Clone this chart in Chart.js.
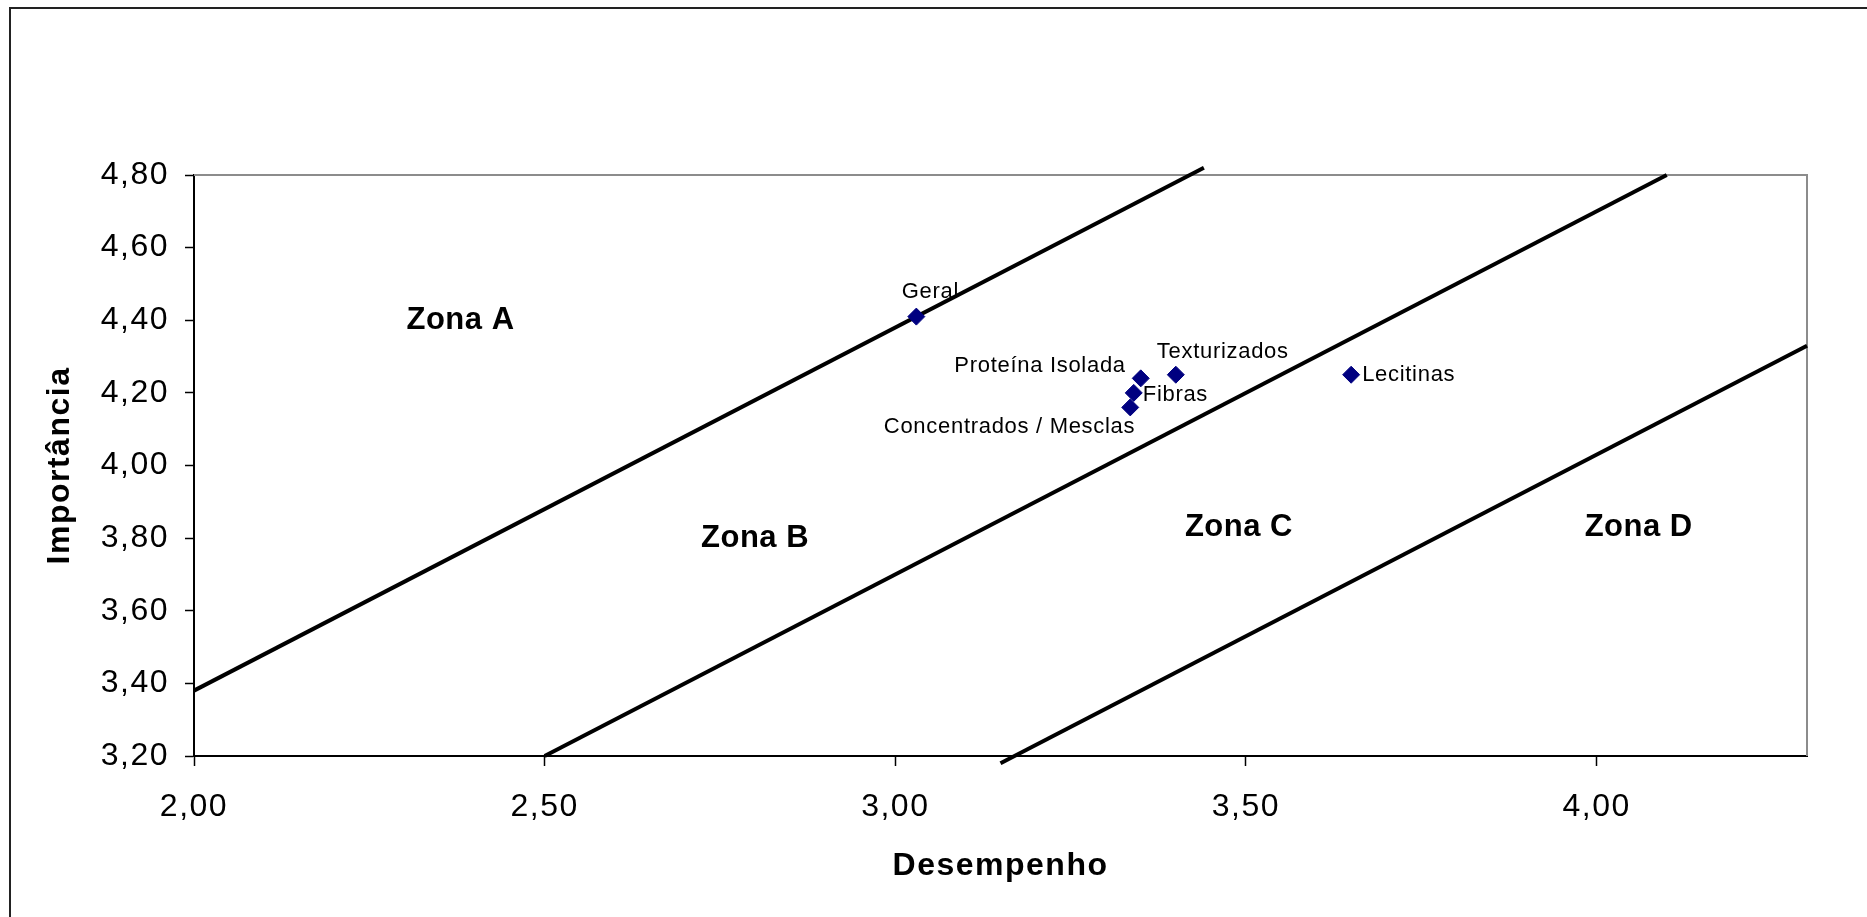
<!DOCTYPE html>
<html>
<head>
<meta charset="utf-8">
<script src="https://cdn.jsdelivr.net/npm/chart.js@4.4.1/dist/chart.umd.min.js"></script>
<style>
html,body{margin:0;padding:0;background:#fff;overflow:hidden}
canvas{display:block}
</style>
</head>
<body>
<canvas id="c" width="1867" height="917"></canvas>
<script>
// ---- data ----
const productNames = ['Geral', 'Proteína Isolada', 'Texturizados', 'Fibras', 'Concentrados / Mesclas', 'Lecitinas'];
const desempenho  = [3.03, 3.35, 3.40, 3.34, 3.335, 3.65];
const importancia = [4.41, 4.24, 4.25, 4.20, 4.16, 4.25];

// zone boundary lines (two end points each)
const lineABx = [2.00, 3.44];
const lineABy = [3.38, 4.82];
const lineBCx = [2.50, 4.10];
const lineBCy = [3.20, 4.80];
const lineCDx = [3.15, 4.30];
const lineCDy = [3.18, 4.33];

// zone names and their anchor (data units)
const zoneNames = ['Zona A', 'Zona B', 'Zona C', 'Zona D'];
const zoneX = [2.38, 2.80, 3.49, 4.06];
const zoneY = [4.40, 3.80, 3.83, 3.83];

// tick labels
const xTickLabels = ['2,00', '2,50', '3,00', '3,50', '4,00'];
const yTickLabels = ['3,20', '3,40', '3,60', '3,80', '4,00', '4,20', '4,40', '4,60', '4,80'];

const xAxisTitle = 'Desempenho';
const yAxisTitle = 'Importância';

// ---- helpers ----
const toNum = s => parseFloat(s.replace(',', '.'));
const pts = (xs, ys) => xs.map((x, i) => ({x: x, y: ys[i]}));
const FONT = "'Liberation Sans', Arial, Helvetica, sans-serif";

// label placement per point: [align, dx, dy(baseline)]
const labelPlacement = [
  ['center', 14, -19],
  ['right', -15, -6],
  ['left', -19, -17],
  ['left', 9, 8],
  ['right', 5, 26],
  ['left', 11, 6]
];

const decorPlugin = {
  id: 'decor',
  beforeDraw(chart) {
    const ctx = chart.ctx;
    ctx.save();
    ctx.strokeStyle = '#222';
    ctx.lineWidth = 2;
    ctx.beginPath();
    ctx.moveTo(10, 917);
    ctx.lineTo(10, 8);
    ctx.lineTo(1867, 8);
    ctx.stroke();
    ctx.restore();
    ctx.letterSpacing = '1.5px';
  },
  beforeDatasetsDraw(chart) {
    const {ctx, chartArea: a} = chart;
    ctx.save();
    ctx.strokeStyle = '#8c8c8c';
    ctx.lineWidth = 2;
    ctx.beginPath();
    ctx.moveTo(a.left, a.top);
    ctx.lineTo(a.right, a.top);
    ctx.lineTo(a.right, a.bottom);
    ctx.stroke();
    ctx.restore();
  },
  afterDatasetsDraw(chart) {
    const ctx = chart.ctx;
    const meta = chart.getDatasetMeta(0);
    ctx.save();
    ctx.fillStyle = '#000';
    ctx.letterSpacing = '0.7px';
    ctx.font = '22px ' + FONT;
    ctx.textBaseline = 'alphabetic';
    meta.data.forEach((el, i) => {
      const p = labelPlacement[i];
      ctx.textAlign = p[0];
      ctx.fillText(productNames[i], el.x + p[1], el.y + p[2]);
    });
    ctx.letterSpacing = '0.5px';
    ctx.font = 'bold 31px ' + FONT;
    ctx.textAlign = 'center';
    ctx.textBaseline = 'middle';
    const sx = chart.scales.x, sy = chart.scales.y;
    zoneNames.forEach((z, i) => {
      ctx.fillText(z, sx.getPixelForValue(zoneX[i]), sy.getPixelForValue(zoneY[i]));
    });
    ctx.restore();
  },
  afterDraw(chart) {
    chart.ctx.letterSpacing = '0px';
  }
};

const lineStyle = {
  showLine: true,
  borderColor: '#000',
  backgroundColor: '#000',
  borderWidth: 4,
  pointRadius: 0,
  pointHoverRadius: 0,
  borderCapStyle: 'butt',
  clip: false,
  tension: 0
};

new Chart(document.getElementById('c'), {
  type: 'scatter',
  data: {
    datasets: [
      {
        label: 'Produtos',
        data: pts(desempenho, importancia),
        pointStyle: 'rectRot',
        pointRadius: 8.5,
        pointHoverRadius: 8.5,
        backgroundColor: '#000080',
        borderColor: '#000080',
        borderWidth: 1,
        clip: false
      },
      Object.assign({label: 'A/B', data: pts(lineABx, lineABy)}, lineStyle),
      Object.assign({label: 'B/C', data: pts(lineBCx, lineBCy)}, lineStyle),
      Object.assign({label: 'C/D', data: pts(lineCDx, lineCDy)}, lineStyle)
    ]
  },
  options: {
    responsive: false,
    animation: false,
    layout: {padding: {top: 175, right: 60, left: 0, bottom: 0}},
    plugins: {
      legend: {display: false},
      tooltip: {enabled: false}
    },
    scales: {
      x: {
        type: 'linear',
        min: 2,
        max: 4.3,
        afterBuildTicks: s => { s.ticks = xTickLabels.map(l => ({value: toNum(l)})); },
        afterFit: s => { s.height = 161; },
        ticks: {
          callback: (v, i) => xTickLabels[i],
          color: '#000',
          font: {family: FONT, size: 32},
          padding: 22,
          maxRotation: 0,
          autoSkip: false
        },
        grid: {drawOnChartArea: false, drawTicks: true, tickLength: 10, tickColor: '#000', tickWidth: 1.5},
        border: {display: true, color: '#000', width: 2},
        title: {
          display: true,
          text: xAxisTitle,
          color: '#000',
          font: {family: FONT, size: 32, weight: 'bold'},
          padding: {top: 0, bottom: 32}
        }
      },
      y: {
        type: 'linear',
        min: 3.2,
        max: 4.8,
        afterBuildTicks: s => { s.ticks = yTickLabels.map(l => ({value: toNum(l)})); },
        afterFit: s => { s.width = 194; },
        ticks: {
          callback: (v, i) => yTickLabels[i],
          color: '#000',
          font: {family: FONT, size: 32},
          padding: 16,
          autoSkip: false
        },
        grid: {drawOnChartArea: false, drawTicks: true, tickLength: 9, tickColor: '#000', tickWidth: 1.5},
        border: {display: true, color: '#000', width: 2},
        title: {
          display: true,
          text: yAxisTitle,
          color: '#000',
          font: {family: FONT, size: 32, weight: 'bold'},
          padding: {top: 41, bottom: 0}
        }
      }
    }
  },
  plugins: [decorPlugin]
});
</script>
</body>
</html>
